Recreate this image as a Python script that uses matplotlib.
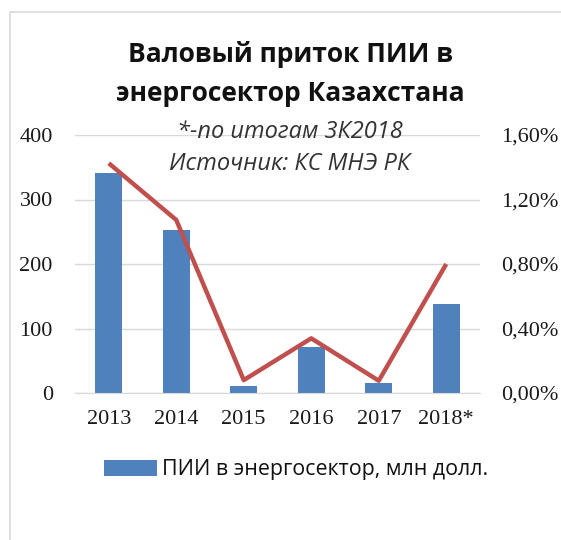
import matplotlib
matplotlib.use("Agg")
import matplotlib.pyplot as plt
from matplotlib.patches import Rectangle
from matplotlib.ticker import FuncFormatter

years = ["2013", "2014", "2015", "2016", "2017", "2018*"]
fdi_musd = [341, 253, 11, 71, 15, 138]
share_pct = [1.425, 1.073, 0.08, 0.339, 0.076, 0.80]
left_ticks = [0, 100, 200, 300, 400]
right_ticks = [0.0, 0.4, 0.8, 1.2, 1.6]

title_lines = ["Валовый приток ПИИ в", "энергосектор Казахстана"]
subtitle_lines = ["*-по итогам 3К2018", "Источник: КС МНЭ РК"]
legend_label = "ПИИ в энергосектор, млн долл."

BLUE = "#4F81BD"
RED = "#C0504D"
GRID = "#D9D9D9"

fig = plt.figure(figsize=(5.61, 5.40), dpi=100)
fig.patch.set_facecolor("white")

# outer chart frame
fig.patches.append(Rectangle((10 / 561, -0.1), 1.2, (540 - 12) / 540 + 0.1,
                             transform=fig.transFigure, fill=False,
                             edgecolor=GRID, linewidth=1.2))

ax = fig.add_axes([75 / 561, 1 - 393 / 540, (480 - 75) / 561, (393 - 135) / 540])
x = list(range(len(years)))
ax.bar(x, fdi_musd, width=0.4, color=BLUE, zorder=2, label=legend_label)
ax.set_xlim(-0.5, 5.5)
ax.set_ylim(0, 400)
ax.set_yticks(left_ticks)
ax.yaxis.grid(True, color=GRID, linewidth=1.0, zorder=0)
ax.set_axisbelow(True)
for s in ["top", "right", "left"]:
    ax.spines[s].set_visible(False)
ax.spines["bottom"].set_color(GRID)
ax.set_xticks(x)
ax.set_xticklabels(years)
ax.tick_params(axis="both", length=0, labelsize=16, labelcolor="#1a1a1a")
ax.tick_params(axis="y", pad=16)
ax.tick_params(axis="x", pad=12)
for lab in ax.get_xticklabels() + ax.get_yticklabels():
    lab.set_family("Liberation Serif")

ax2 = ax.twinx()
ax2.plot(x, share_pct, color=RED, linewidth=3.2, zorder=3, solid_capstyle="butt")
ax2.set_ylim(0, 1.6)
ax2.set_yticks(right_ticks)
ax2.yaxis.set_major_formatter(FuncFormatter(lambda v, p: f"{v:.2f}%".replace(".", ",")))
for s in ["top", "right", "left", "bottom"]:
    ax2.spines[s].set_visible(False)
ax2.tick_params(axis="y", length=0, labelsize=16, pad=15, labelcolor="#1a1a1a")
for lab in ax2.get_yticklabels():
    lab.set_family("Liberation Serif")

# titles
fig.text(291 / 561, 1 - 55 / 540, title_lines[0], ha="center", va="center",
         fontsize=19, fontweight="bold", family="Open Sans", color="#111111")
fig.text(290 / 561, 1 - 93 / 540, title_lines[1], ha="center", va="center",
         fontsize=19, fontweight="bold", family="Open Sans", color="#111111")
fig.text(290 / 561, 1 - 132 / 540, subtitle_lines[0], ha="center", va="center",
         fontsize=17, style="italic", family="Open Sans", color="#333333")
fig.text(290 / 561, 1 - 164 / 540, subtitle_lines[1], ha="center", va="center",
         fontsize=17, style="italic", family="Open Sans", color="#333333")

h, l = ax.get_legend_handles_labels()
leg = fig.legend(h, l, loc="center", bbox_to_anchor=(296 / 561, 1 - 470 / 540),
                 frameon=False, prop={"family": "Open Sans", "size": 15.4},
                 handlelength=2.48, handleheight=0.75, handletextpad=0.2,
                 borderpad=0, borderaxespad=0)
for t in leg.get_texts():
    t.set_color("#111111")

fig.savefig("out.png", dpi=100, facecolor="white")
